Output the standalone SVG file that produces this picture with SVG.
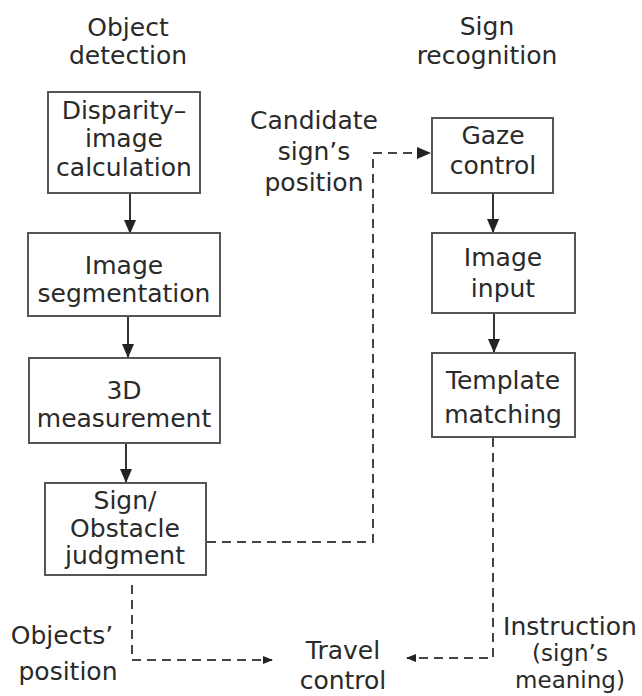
<svg xmlns="http://www.w3.org/2000/svg" width="642" height="696" viewBox="0 0 642 696">
<defs>
<marker id="ah" markerWidth="14" markerHeight="12" refX="13" refY="6" orient="auto" markerUnits="userSpaceOnUse">
<path d="M0,0 L14,6 L0,12 Z" fill="#222"/>
</marker>
<marker id="ahs" markerWidth="10" markerHeight="8" refX="9" refY="4" orient="auto" markerUnits="userSpaceOnUse">
<path d="M0,0 L10,4 L0,8 Z" fill="#222"/>
</marker>
</defs>
<style>
text{font-family:"DejaVu Sans","Noto Sans",sans-serif;font-size:25px;fill:#2a2a2a;text-anchor:middle}
.sm{font-size:23px}
.box{fill:#fff;stroke:#555;stroke-width:2}
.solid{fill:none;stroke:#333;stroke-width:2}
.dash{fill:none;stroke:#444;stroke-width:2;stroke-dasharray:9 6}
</style>
<rect width="642" height="696" fill="#fff"/>
<g id="titles">
<text x="128" y="36">Object</text>
<text x="128" y="64">detection</text>
<text x="487" y="35">Sign</text>
<text x="487" y="64">recognition</text>
</g>
<g id="connectors">
<line class="solid" x1="130" y1="193" x2="130" y2="233" marker-end="url(#ah)"/>
<line class="solid" x1="128" y1="316" x2="128" y2="357" marker-end="url(#ah)"/>
<line class="solid" x1="126" y1="444" x2="126" y2="482" marker-end="url(#ah)"/>
<line class="solid" x1="493" y1="193" x2="493" y2="232" marker-end="url(#ah)"/>
<line class="solid" x1="494" y1="313" x2="494" y2="352" marker-end="url(#ah)"/>
<polyline class="dash" points="207,542 373,542 373,153 430,153" marker-end="url(#ah)"/>
<polyline class="dash" points="493,438 493,658 407,658" marker-end="url(#ahs)"/>
<polyline class="dash" points="132,585 132,660 272,660" marker-end="url(#ahs)"/>
</g>
<g id="n-disparity">
<rect class="box" x="48" y="92" width="152" height="101"/>
<text x="124" y="119">Disparity–</text>
<text x="124" y="147">image</text>
<text x="124" y="176">calculation</text>
</g>
<g id="n-segmentation">
<rect class="box" x="28" y="233" width="192" height="83"/>
<text x="124" y="274">Image</text>
<text x="124" y="302">segmentation</text>
</g>
<g id="n-3d">
<rect class="box" x="29" y="358" width="191" height="85"/>
<text x="124" y="399">3D</text>
<text x="124" y="427">measurement</text>
</g>
<g id="n-judgment">
<rect class="box" x="45" y="483" width="161" height="92"/>
<text x="125" y="509">Sign/</text>
<text x="125" y="537">Obstacle</text>
<text x="125" y="564">judgment</text>
</g>
<g id="n-gaze">
<rect class="box" x="432" y="118" width="121" height="75"/>
<text x="493" y="144">Gaze</text>
<text x="493" y="174">control</text>
</g>
<g id="n-input">
<rect class="box" x="432" y="233" width="143" height="80"/>
<text x="503" y="266">Image</text>
<text x="503" y="297">input</text>
</g>
<g id="n-template">
<rect class="box" x="432" y="353" width="143" height="84"/>
<text x="503" y="389">Template</text>
<text x="503" y="423">matching</text>
</g>
<g id="n-travel">
<text x="343" y="659">Travel</text>
<text x="343" y="689">control</text>
</g>
<g id="labels">
<text x="314" y="129">Candidate</text>
<text x="314" y="160">sign’s</text>
<text x="314" y="191">position</text>
<text x="62" y="644">Objects’</text>
<text x="68" y="680">position</text>
<text x="570" y="635">Instruction</text>
<text class="sm" x="570" y="661">(sign’s</text>
<text class="sm" x="570" y="688">meaning)</text>
</g>
</svg>
